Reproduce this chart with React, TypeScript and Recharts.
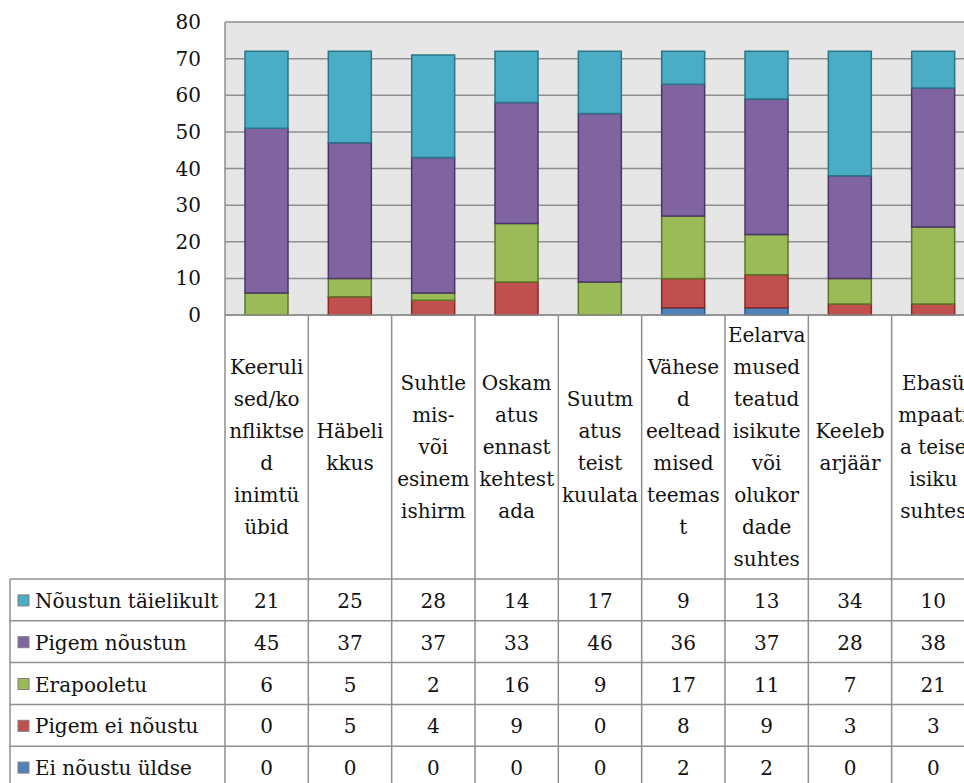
import React from "react"
import { BarChart, Bar, XAxis, YAxis, CartesianGrid } from "recharts"

// categories and the way they wrap in the table header cells
const categories = [
  "Keerulised/konfliktsed inimtüübid",
  "Häbelikkus",
  "Suhtlemis- või esinemishirm",
  "Oskamatus ennast kehtestada",
  "Suutmatus teist kuulata",
  "Vähesed eelteadmised teemast",
  "Eelarvamused teatud isikute või olukordade suhtes",
  "Keelebarjäär",
  "Ebasümpaatia teise isiku suhtes",
]
const categoryLines = [
  ["Keeruli", "sed/ko", "nfliktse", "d", "inimtü", "übid"],
  ["Häbeli", "kkus"],
  ["Suhtle", "mis-", "või", "esinem", "ishirm"],
  ["Oskam", "atus", "ennast", "kehtest", "ada"],
  ["Suutm", "atus", "teist", "kuulata"],
  ["Vähese", "d", "eeltead", "mised", "teemas", "t"],
  ["Eelarva", "mused", "teatud", "isikute", "või", "olukor", "dade", "suhtes"],
  ["Keeleb", "arjäär"],
  ["Ebasü", "mpaati", "a teise", "isiku", "suhtes"],
]

const noustunTaielikult = [21, 25, 28, 14, 17, 9, 13, 34, 10]
const pigemNoustun = [45, 37, 37, 33, 46, 36, 37, 28, 38]
const erapooletu = [6, 5, 2, 16, 9, 17, 11, 7, 21]
const pigemEiNoustu = [0, 5, 4, 9, 0, 8, 9, 3, 3]
const eiNoustuUldse = [0, 0, 0, 0, 0, 2, 2, 0, 0]

const yTicks = [0, 10, 20, 30, 40, 50, 60, 70, 80]

// table rows, top to bottom
const series = [
  { key: "nt", name: "Nõustun täielikult", values: noustunTaielikult, fill: "#4BACC6", stroke: "#2A7587" },
  { key: "pn", name: "Pigem nõustun", values: pigemNoustun, fill: "#8064A2", stroke: "#4A3566" },
  { key: "ea", name: "Erapooletu", values: erapooletu, fill: "#9BBB59", stroke: "#5C7728" },
  { key: "pe", name: "Pigem ei nõustu", values: pigemEiNoustu, fill: "#C0504D", stroke: "#882725" },
  { key: "eu", name: "Ei nõustu üldse", values: eiNoustuUldse, fill: "#4F81BD", stroke: "#2A578C" },
]

const data = categories.map((name, i) => {
  const row: Record<string, string | number> = { name }
  series.forEach((s) => (row[s.key] = s.values[i]))
  return row
})

const W = 980
const H = 783
const PLOT_LEFT = 225
const MARGIN_RIGHT = 5
const BAND = (W - PLOT_LEFT - MARGIN_RIGHT) / categories.length
const TABLE_TOP = 579
const ROW_H = 41.8
const LINE_H = 32
const FONT = "'DejaVu Serif', serif"
const GRID = "#8f8f8f"

function TableTick(props: any) {
  const { x, y, index } = props
  const left = x - BAND / 2
  const right = x + BAND / 2
  const lines = categoryLines[index] || []
  const mid = (y + TABLE_TOP) / 2
  const first = mid - ((lines.length - 1) * LINE_H) / 2
  return (
    <g fontFamily={FONT} fontSize={20} fill="#111">
      <line x1={left} y1={y} x2={left} y2={H + 10} stroke={GRID} strokeWidth={1.5} />
      {index === categories.length - 1 && (
        <line x1={right} y1={y} x2={right} y2={H + 10} stroke={GRID} strokeWidth={1.5} />
      )}
      {lines.map((l, k) => (
        <text key={k} x={x} y={first + k * LINE_H} textAnchor="middle" dominantBaseline="central">
          {l}
        </text>
      ))}
      {series.map((s, r) => (
        <g key={s.key}>
          <line x1={left} y1={TABLE_TOP + r * ROW_H} x2={right} y2={TABLE_TOP + r * ROW_H} stroke={GRID} strokeWidth={1.5} />
          <text x={x} y={TABLE_TOP + r * ROW_H + ROW_H / 2 + 1} textAnchor="middle" dominantBaseline="central">
            {s.values[index]}
          </text>
        </g>
      ))}
      {index === 0 && (
        <g>
          <line x1={10} y1={TABLE_TOP} x2={10} y2={H + 10} stroke={GRID} strokeWidth={1.5} />
          {series.map((s, r) => {
            const cy = TABLE_TOP + r * ROW_H + ROW_H / 2
            return (
              <g key={s.key}>
                <line x1={10} y1={TABLE_TOP + r * ROW_H} x2={left} y2={TABLE_TOP + r * ROW_H} stroke={GRID} strokeWidth={1.5} />
                <rect x={18} y={cy - 5} width={11} height={11} fill={s.fill} stroke="#7f7f7f" strokeWidth={1} />
                <text x={35} y={cy + 1} dominantBaseline="central">
                  {s.name}
                </text>
              </g>
            )
          })}
        </g>
      )}
    </g>
  )
}

export default function App() {
  // stack from the bottom: last table row first
  const stack = [...series].reverse()
  return (
    <div style={{ position: "fixed", left: 0, top: 0, width: 964, height: H, overflow: "hidden", background: "#fff" }}>
      <BarChart width={W} height={H} data={data} margin={{ top: 22, right: MARGIN_RIGHT, left: 0, bottom: 0 }} barSize={43}>
        <CartesianGrid vertical={false} fill="#e6e6e6" stroke={GRID} strokeWidth={1.5} />
        <XAxis
          dataKey="name"
          interval={0}
          height={H - 315}
          tickLine={false}
          tickSize={0}
          tickMargin={0}
          axisLine={{ stroke: GRID, strokeWidth: 1.5 }}
          tick={(p: any) => <TableTick {...p} />}
        />
        <YAxis
          width={PLOT_LEFT}
          domain={[0, 80]}
          ticks={yTicks}
          interval={0}
          tickLine={false}
          tickMargin={18}
          axisLine={{ stroke: GRID, strokeWidth: 1.5 }}
          tick={{ fill: "#111", fontSize: 20, fontFamily: FONT }}
        />
        {stack.map((s) => (
          <Bar key={s.key} dataKey={s.key} name={s.name} stackId="a" fill={s.fill} stroke={s.stroke} strokeWidth={1.5} isAnimationActive={false} />
        ))}
      </BarChart>
    </div>
  )
}
